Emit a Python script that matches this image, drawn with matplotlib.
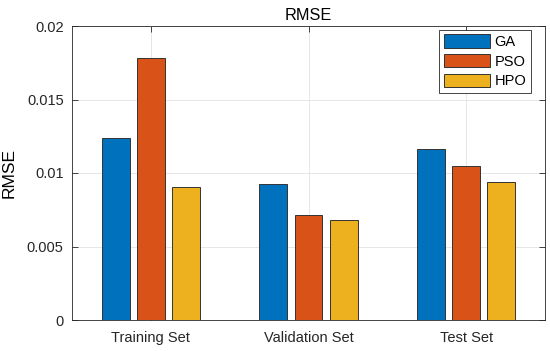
#!/usr/bin/env python3
"""
Grouped bar chart of RMSE for GA, PSO and HPO.
"""

import numpy as np
import matplotlib.pyplot as plt

plt.rcParams['font.family'] = ['Liberation Sans', 'DejaVu Sans']
plt.rcParams['font.size'] = 10.5

# Data
categories = ['Training Set', 'Validation Set', 'Test Set']
methods = ['GA', 'PSO', 'HPO']
ga_rmse = [0.01237, 0.00925, 0.01161]
pso_rmse = [0.01784, 0.00714, 0.01048]
hpo_rmse = [0.00903, 0.00680, 0.00941]
colors = ['#0072BD', '#D95319', '#EDB120']

fig = plt.figure(figsize=(5.5, 3.51), dpi=100)
ax = fig.add_axes([72 / 550, 1 - 320 / 351, (545 - 72) / 550, (320 - 26) / 351])

x = np.arange(1, len(categories) + 1)
width = 0.177
offset = 0.223
for i, (vals, name) in enumerate(zip([ga_rmse, pso_rmse, hpo_rmse], methods)):
    ax.bar(x + (i - 1) * offset, vals, width, color=colors[i], label=name,
           edgecolor='#333333', linewidth=0.7, zorder=3)

ax.set_xlim(0.5, 3.5)
ax.set_ylim(0, 0.02)
ax.set_xticks(x)
ax.set_xticklabels(categories)
ax.set_yticks([0, 0.005, 0.01, 0.015, 0.02])
ax.set_yticklabels(['0', '0.005', '0.01', '0.015', '0.02'])
ax.set_ylabel('RMSE', fontsize=12.5, labelpad=7)
ax.set_title('RMSE', fontsize=11.7, pad=4)

ax.grid(True, color='#e2e2e2', linewidth=0.6, zorder=0)
ax.tick_params(direction='in', top=True, right=True, length=4,
               color='#262626', labelcolor='#262626', width=0.6)
ax.tick_params(axis='x', pad=8)
ax.tick_params(axis='y', pad=6)
for s in ax.spines.values():
    s.set_color('#262626')
    s.set_linewidth(0.6)

leg = ax.legend(loc='upper right', bbox_to_anchor=(0.970, 0.986),
                fancybox=False, framealpha=1, fontsize=10.5,
                edgecolor='#262626', handlelength=3.2, handleheight=1.03,
                borderpad=0.3, labelspacing=0.34, handletextpad=0.3,
                borderaxespad=0)
leg.get_frame().set_linewidth(0.6)

fig.savefig('out.png', dpi=100)
